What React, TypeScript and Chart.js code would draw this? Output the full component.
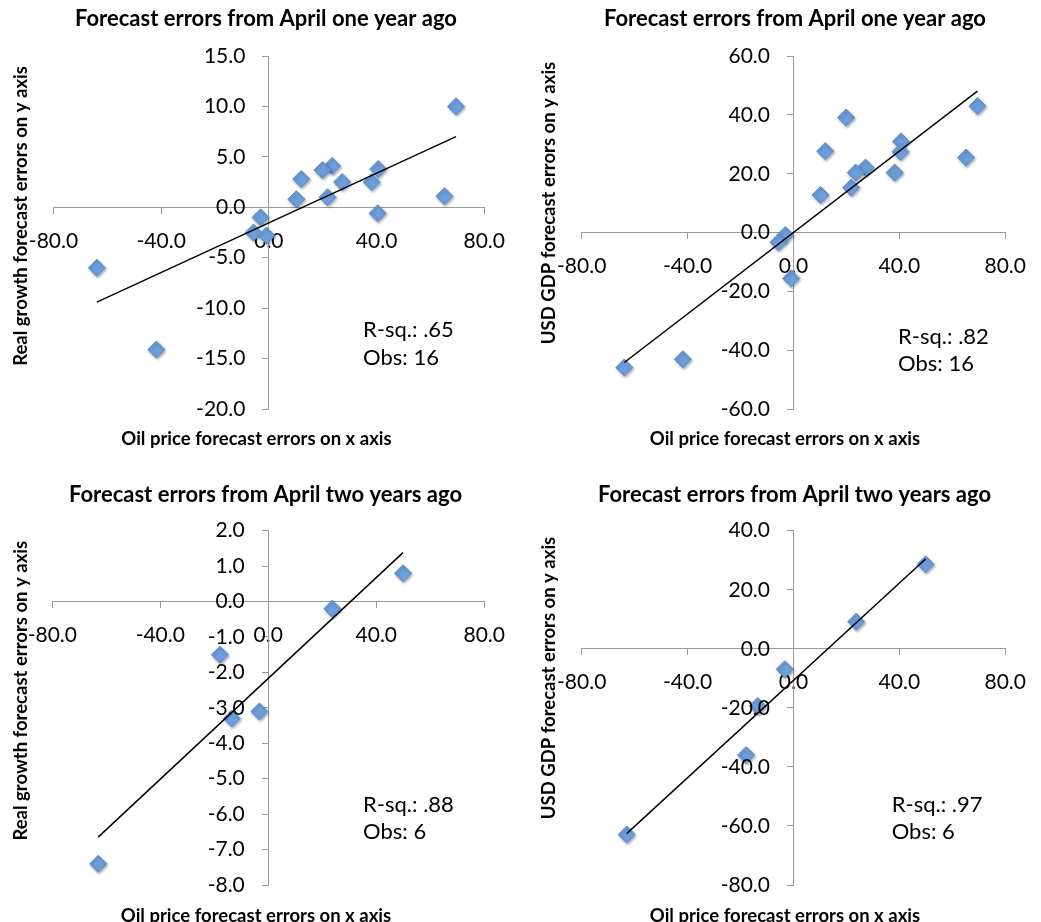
import React, { useEffect, useRef } from "react";
import { Chart, registerables } from "chart.js";

Chart.register(...registerables);

// ---- Data ----
// One-year-ago forecast errors (16 observations)
const oilErrOneYear = [69.5, 65.2, 40.6, 40.4, 38.2, 27.2, 23.5, 21.8, 19.9, 12.0, 10.2, -3.1, -5.7, -0.9, -63.9, -41.8];
const growthErrOneYear = [10.0, 1.1, 3.8, -0.6, 2.5, 2.5, 4.1, 1.0, 3.7, 2.8, 0.8, -1.0, -2.5, -2.8, -6.0, -14.1];
const gdpErrOneYear = [43.0, 25.5, 31.0, 27.5, 20.4, 22.1, 20.4, 15.3, 39.1, 27.7, 12.8, -0.8, -3.3, -15.5, -45.8, -43.0];

// Two-years-ago forecast errors (6 observations)
const oilErrTwoYears = [49.9, 23.7, -3.3, -13.5, -17.9, -63.0];
const growthErrTwoYears = [0.8, -0.2, -3.1, -3.3, -1.5, -7.4];
const gdpErrTwoYears = [28.6, 9.2, -6.9, -19.4, -36.0, -62.9];

// Trend line end points
const trendOilOneYear = [-63.9, 69.5];
const trendGrowthOneYear = [-9.4, 7.0];
const trendGdpOneYear = [-44.1, 48.1];
const trendOilTwoYears = [-63.0, 49.9];
const trendGrowthTwoYears = [-6.65, 1.38];
const trendGdpTwoYears = [-62.6, 30.4];

// Axis ticks
const xTickValues = [-80, -40, 0, 40, 80];
const yTicksGrowthOneYear = [-20, -15, -10, -5, 0, 5, 10, 15];
const yTicksGdpOneYear = [-60, -40, -20, 0, 20, 40, 60];
const yTicksGrowthTwoYears = [-8, -7, -6, -5, -4, -3, -2, -1, 0, 1, 2];
const yTicksGdpTwoYears = [-80, -60, -40, -20, 0, 20, 40];

// Texts
const titleOneYear = "Forecast errors from April one year ago";
const titleTwoYears = "Forecast errors from April two years ago";
const xTitle = "Oil price forecast errors on x axis";
const yTitleGrowth = "Real growth forecast errors on y axis";
const yTitleGdp = "USD GDP forecast errors on y axis";
const notesP1 = ["R-sq.: .65", "Obs: 16"];
const notesP2 = ["R-sq.: .82", "Obs: 16"];
const notesP3 = ["R-sq.: .88", "Obs: 6"];
const notesP4 = ["R-sq.: .97", "Obs: 6"];

const FONT = "Lato, 'Open Sans', sans-serif";
const AXIS_COLOR = "#9a9a9a";
const TICK_SIZE = 21;

type PanelCfg = {
  left: number;
  top: number;
  width: number;
  height: number;
  pad: { left: number; right: number; top: number; bottom: number };
  title: string;
  titlePos: [number, number];
  xTitlePos: [number, number];
  yTitle: string;
  yTitlePos: [number, number];
  notes: string[];
  notePos: [number, number, number];
  xs: number[];
  ys: number[];
  tx: number[];
  ty: number[];
  yTicks: number[];
};

const panels: PanelCfg[] = [
  {
    left: 0, top: 0, width: 520, height: 460,
    pad: { left: 53.5, right: 31, top: 56, bottom: 51 },
    title: titleOneYear, titlePos: [266, 26], xTitlePos: [256.5, 445],
    yTitle: yTitleGrowth, yTitlePos: [26.5, 216],
    notes: notesP1, notePos: [363, 337, 365],
    xs: oilErrOneYear, ys: growthErrOneYear, tx: trendOilOneYear, ty: trendGrowthOneYear,
    yTicks: yTicksGrowthOneYear,
  },
  {
    left: 520, top: 0, width: 521, height: 460,
    pad: { left: 61.7, right: 23.3, top: 56, bottom: 50.7 },
    title: titleOneYear, titlePos: [275, 26], xTitlePos: [265, 445],
    yTitle: yTitleGdp, yTitlePos: [35, 203],
    notes: notesP2, notePos: [378, 344, 371],
    xs: oilErrOneYear, ys: gdpErrOneYear, tx: trendOilOneYear, ty: trendGdpOneYear,
    yTicks: yTicksGdpOneYear,
  },
  {
    left: 0, top: 460, width: 520, height: 462,
    pad: { left: 52.3, right: 31.7, top: 70.7, bottom: 37 },
    title: titleTwoYears, titlePos: [265.5, 41.7], xTitlePos: [256, 461.5],
    yTitle: yTitleGrowth, yTitlePos: [26.5, 230.7],
    notes: notesP3, notePos: [363, 352, 379],
    xs: oilErrTwoYears, ys: growthErrTwoYears, tx: trendOilTwoYears, ty: trendGrowthTwoYears,
    yTicks: yTicksGrowthTwoYears,
  },
  {
    left: 520, top: 460, width: 521, height: 462,
    pad: { left: 61.7, right: 23.3, top: 70.7, bottom: 37 },
    title: titleTwoYears, titlePos: [274.5, 41.7], xTitlePos: [265, 461.5],
    yTitle: yTitleGdp, yTitlePos: [35, 218],
    notes: notesP4, notePos: [371.7, 352, 379],
    xs: oilErrTwoYears, ys: gdpErrTwoYears, tx: trendOilTwoYears, ty: trendGdpTwoYears,
    yTicks: yTicksGdpTwoYears,
  },
];

function Panel({ cfg }: { cfg: PanelCfg }) {
  const ref = useRef<HTMLCanvasElement | null>(null);

  useEffect(() => {
    const canvas = ref.current;
    if (!canvas) return;

    const textPlugin = {
      id: "panelTexts",
      afterDraw(chart: any) {
        const ctx = chart.ctx as CanvasRenderingContext2D;
        ctx.save();
        ctx.fillStyle = "#000";
        // y tick labels, placed through the y scale
        const ys = chart.scales.y;
        const xs = chart.scales.x;
        const axisX = xs.getPixelForValue(0);
        ctx.font = `${TICK_SIZE}px ${FONT}`;
        ctx.textAlign = "right";
        ctx.textBaseline = "middle";
        cfg.yTicks.forEach((v) => {
          ctx.fillText(v.toFixed(1), axisX - 23.5, ys.getPixelForValue(v));
        });
        ctx.textBaseline = "alphabetic";
        // chart title
        ctx.font = `bold 22px ${FONT}`;
        ctx.textAlign = "center";
        ctx.fillText(cfg.title, cfg.titlePos[0], cfg.titlePos[1]);
        // x axis title
        ctx.font = `bold 18.5px ${FONT}`;
        ctx.fillText(xTitle, cfg.xTitlePos[0], cfg.xTitlePos[1]);
        // y axis title
        ctx.save();
        ctx.translate(cfg.yTitlePos[0], cfg.yTitlePos[1]);
        ctx.rotate(-Math.PI / 2);
        ctx.fillText(cfg.yTitle, 0, 0);
        ctx.restore();
        // notes
        ctx.font = `22px ${FONT}`;
        ctx.textAlign = "left";
        ctx.fillText(cfg.notes[0], cfg.notePos[0], cfg.notePos[1]);
        ctx.fillText(cfg.notes[1], cfg.notePos[0], cfg.notePos[2]);
        ctx.restore();
      },
      beforeDatasetDraw(chart: any, args: any) {
        const ctx = chart.ctx as CanvasRenderingContext2D;
        ctx.save();
        if (args.index === 1) {
          ctx.shadowColor = "rgba(0,0,0,0.35)";
          ctx.shadowBlur = 3;
          ctx.shadowOffsetX = 1;
          ctx.shadowOffsetY = 1.5;
        }
      },
      afterDatasetDraw(chart: any) {
        chart.ctx.restore();
      },
    };

    const yMin = cfg.yTicks[0];
    const yMax = cfg.yTicks[cfg.yTicks.length - 1];

    const chart = new Chart(canvas, {
      type: "scatter",
      data: {
        datasets: [
          {
            type: "line",
            label: "Trend",
            data: cfg.tx.map((x, i) => ({ x, y: cfg.ty[i] })),
            borderColor: "#000",
            borderWidth: 1.5,
            pointRadius: 0,
            fill: false,
            tension: 0,
            clip: false,
          } as any,
          {
            label: "Errors",
            data: cfg.xs.map((x, i) => ({ x, y: cfg.ys[i] })),
            pointStyle: "rectRot",
            pointRadius: 8.5,
            pointBackgroundColor: "#6d9edb",
            pointBorderColor: "#5d8fd2",
            pointBorderWidth: 1,
            clip: false,
          } as any,
        ],
      },
      options: {
        responsive: false,
        animation: false,
        devicePixelRatio: 1,
        layout: { padding: cfg.pad },
        plugins: {
          legend: { display: false },
          tooltip: { enabled: false },
          title: { display: false },
        },
        scales: {
          x: {
            type: "linear",
            min: -80,
            max: 80,
            position: { y: 0 } as any,
            z: 1,
            afterBuildTicks: (scale: any) => {
              scale.ticks = xTickValues.map((v) => ({ value: v }));
            },
            ticks: {
              autoSkip: false,
              maxRotation: 0,
              padding: 15,
              color: "#000",
              font: { family: FONT, size: TICK_SIZE },
              callback: (v: any) => Number(v).toFixed(1),
            },
            grid: { drawOnChartArea: false, drawTicks: true, tickLength: 6, color: AXIS_COLOR },
            border: { display: true, color: AXIS_COLOR, width: 1 },
          },
          y: {
            type: "linear",
            min: yMin,
            max: yMax,
            position: { x: 0 } as any,
            z: 1,
            afterBuildTicks: (scale: any) => {
              scale.ticks = cfg.yTicks.map((v) => ({ value: v }));
            },
            ticks: {
              display: false,
              autoSkip: false,
              font: { family: FONT, size: TICK_SIZE },
            },
            grid: { drawOnChartArea: false, drawTicks: true, tickLength: 6, color: AXIS_COLOR },
            border: { display: true, color: AXIS_COLOR, width: 1 },
          },
        },
      } as any,
      plugins: [textPlugin],
    });

    return () => {
      chart.destroy();
    };
  }, [cfg]);

  return (
    <canvas
      ref={ref}
      width={cfg.width}
      height={cfg.height}
      style={{
        position: "absolute",
        left: cfg.left,
        top: cfg.top,
        width: cfg.width,
        height: cfg.height,
        display: "block",
      }}
    />
  );
}

export default function App() {
  return (
    <div style={{ position: "absolute", left: 0, top: 0, width: 1041, height: 922, background: "#fff" }}>
      {panels.map((p, i) => (
        <Panel key={i} cfg={p} />
      ))}
    </div>
  );
}
